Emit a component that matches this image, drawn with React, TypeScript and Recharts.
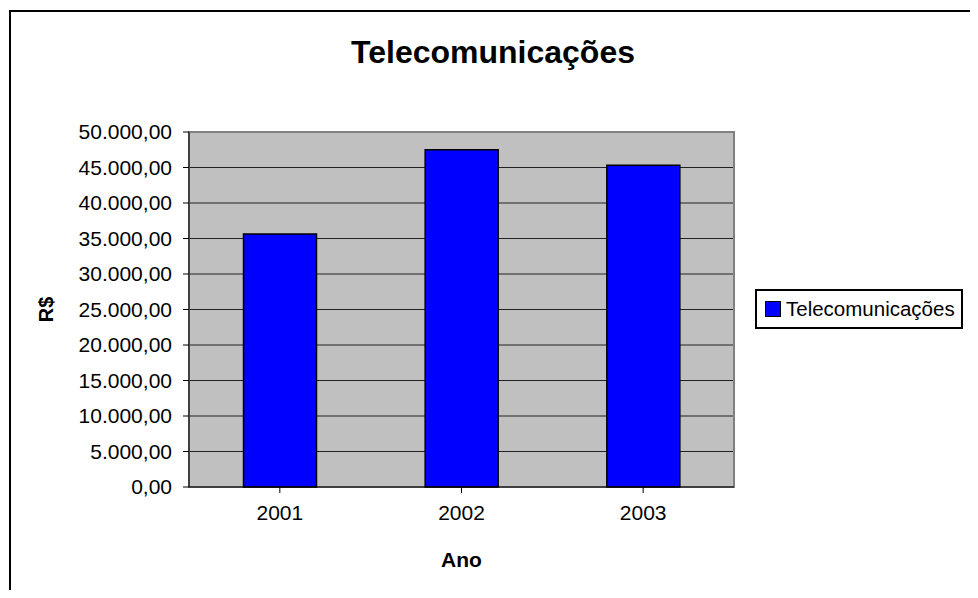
import { BarChart, Bar, XAxis, YAxis, CartesianGrid, Legend, ReferenceArea } from "recharts";

const anos = ["2001", "2002", "2003"];
const valores = [35650, 47500, 45300];
const yTicks = [0, 5000, 10000, 15000, 20000, 25000, 30000, 35000, 40000, 45000, 50000];

const data = anos.map((ano, i) => ({ ano, valor: valores[i] }));

const font = "'Liberation Sans', Arial, sans-serif";

function formatBR(v: number) {
  const [int, dec] = v.toFixed(2).split(".");
  return int.replace(/\B(?=(\d{3})+(?!\d))/g, ".") + "," + dec;
}

function YLabel(props: any) {
  const vb = props.viewBox || {};
  const x = vb.x + 37;
  const y = vb.y + vb.height / 2;
  return (
    <text x={x} y={y} transform={`rotate(-90 ${x} ${y})`} textAnchor="middle" dominantBaseline="central"
      fontFamily={font} fontWeight="bold" fontSize={20} fill="#000">
      R$
    </text>
  );
}

function LegendBox() {
  return (
    <div style={{ border: "2px solid #000", background: "#fff", padding: "6px 6px 6px 8px", display: "flex", alignItems: "center", fontFamily: font, fontSize: 20.5, color: "#000", whiteSpace: "nowrap", lineHeight: "24px" }}>
      <span style={{ display: "inline-block", width: 14, height: 14, background: "#0000FF", border: "1.5px solid #000", marginRight: 5 }} />
      Telecomunicações
    </div>
  );
}

export default function App() {
  return (
    <div style={{ position: "relative", width: 978, height: 598, margin: -8, overflow: "hidden", background: "#fff" }}>
      <div style={{ position: "absolute", left: 9, top: 10, width: 1100, height: 1100, borderTop: "2px solid #000", borderLeft: "2px solid #000" }} />
      <div style={{ position: "absolute", left: 0, top: 34, width: 986, textAlign: "center", fontFamily: font, fontWeight: "bold", fontSize: 32, color: "#000" }}>
        Telecomunicações
      </div>
      <div style={{ position: "absolute", left: 0, top: 0 }}>
        <BarChart width={978} height={598} data={data} barCategoryGap="30%"
          margin={{ top: 132, right: 244, bottom: 31, left: 9 }}>
          <CartesianGrid vertical={false} fill="#C0C0C0" stroke="#222" strokeOpacity={1} />
          <ReferenceArea y1={0} y2={50000} fill="none" stroke="#808080" strokeWidth={2} ifOverflow="visible" />
          <XAxis dataKey="ano" height={80} stroke="#000" tickSize={6} tickMargin={12}
            tick={{ fill: "#000", fontSize: 21, fontFamily: font }}
            label={{ value: "Ano", position: "insideBottom", offset: 0, fill: "#000", fontSize: 21, fontWeight: "bold", fontFamily: font }} />
          <YAxis width={180} domain={[0, 50000]} ticks={yTicks} interval={0} stroke="#000" tickSize={6} tickMargin={11}
            tickFormatter={formatBR} tick={{ fill: "#000", fontSize: 21, fontFamily: font }}
            label={<YLabel />} />
          <Legend content={<LegendBox />} wrapperStyle={{ left: 755, top: 289, width: "auto" }} layout="vertical" align="center" verticalAlign="middle" />
          <Bar dataKey="valor" name="Telecomunicações" fill="#0000FF" stroke="#000" strokeWidth={1.5} isAnimationActive={false} />
        </BarChart>
      </div>
    </div>
  );
}
